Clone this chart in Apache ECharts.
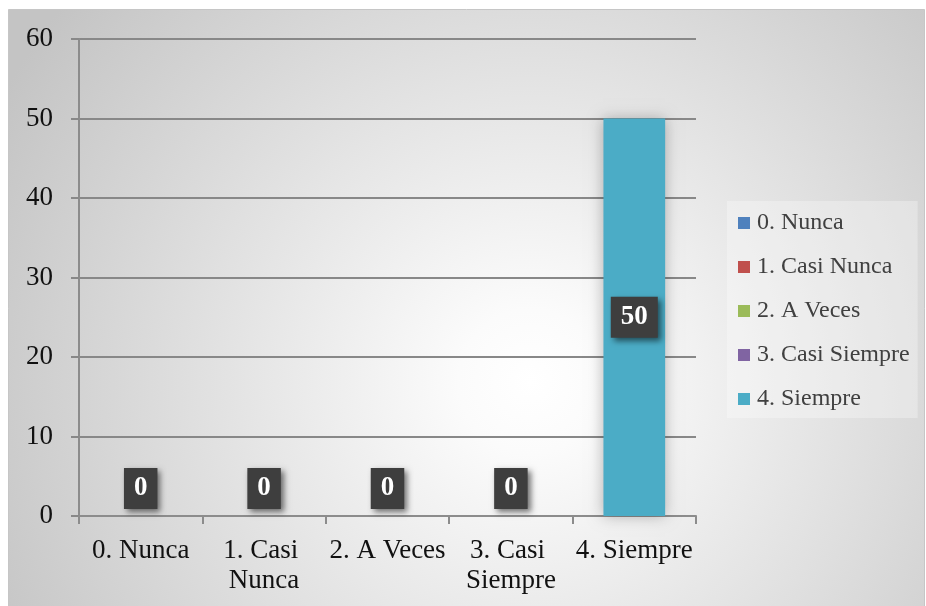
<!DOCTYPE html>
<html>
<head>
<meta charset="utf-8">
<script src="https://cdn.jsdelivr.net/npm/echarts@6/dist/echarts.min.js"></script>
<style>
html,body{margin:0;padding:0;background:#fff;}
#chart{width:926px;height:606px;}
</style>
</head>
<body>
<div id="chart"></div>
<script>
var categories = ['0. Nunca', '1. Casi Nunca', '2. A Veces', '3. Casi Siempre', '4. Siempre'];
var values = [0, 0, 0, 0, 50];
var colors = ['#4F81BD', '#C0504D', '#9BBB59', '#8064A2', '#4BACC6'];
var yTicks = [0, 10, 20, 30, 40, 50, 60];

var serifFont = "'Liberation Serif', 'DejaVu Serif', serif";
var chart = echarts.init(document.getElementById('chart'), null, {renderer: 'canvas'});

var series = categories.map(function (name, i) {
  return {
    name: name,
    type: 'bar',
    stack: 'total',
    barWidth: '50%',
    itemStyle: {
      color: colors[i],
      shadowBlur: 14,
      shadowColor: 'rgba(0,0,0,0.28)'
    },
    label: {
      show: true,
      color: '#ffffff',
      fontFamily: serifFont,
      fontWeight: 'bold',
      fontSize: 27,
      lineHeight: 27,
      backgroundColor: '#3e3e3e',
      padding: [7, 10, 7, 10],
      shadowBlur: 6,
      shadowColor: 'rgba(0,0,0,0.55)',
      shadowOffsetX: 3,
      shadowOffsetY: 3
    },
    data: categories.map(function (c, j) {
      if (j !== i) return null;
      var v = values[i];
      return {
        value: v,
        label: v > 0 ? {position: 'inside'} : {position: 'top', distance: 7}
      };
    })
  };
});

var option = {
  animation: false,
  backgroundColor: '#ffffff',
  color: colors,
  graphic: [{
    type: 'rect',
    z: -10,
    silent: true,
    shape: {x: 8.5, y: 9.5, width: 916, height: 600},
    style: {
      fill: {
        type: 'radial', x: 0.57, y: 0.62, r: 1.0,
        colorStops: [
          {offset: 0, color: '#ffffff'},
          {offset: 0.12, color: '#fbfbfb'},
          {offset: 1, color: '#c4c4c4'}
        ]
      },
      stroke: '#c6c6c6',
      lineWidth: 1
    }
  }],
  grid: {left: 79, right: 230, top: 39, bottom: 90, containLabel: false},
  legend: {
    orient: 'vertical',
    left: 727,
    top: 201,
    padding: [10, 8, 7, 11],
    backgroundColor: 'rgba(255,255,255,0.3)',
    itemWidth: 12,
    itemHeight: 12,
    itemGap: 20,
    icon: 'rect',
    textStyle: {
      fontFamily: serifFont,
      fontSize: 24,
      lineHeight: 21,
      color: '#404040',
      padding: [0, 0, 0, 2]
    },
    data: categories
  },
  xAxis: {
    type: 'category',
    data: categories,
    axisLine: {lineStyle: {color: '#8c8c8c', width: 2}},
    axisTick: {show: true, length: 8, lineStyle: {color: '#8c8c8c', width: 2}},
    axisLabel: {
      color: '#111111',
      fontFamily: serifFont,
      fontSize: 27,
      lineHeight: 30,
      margin: 20,
      interval: 0,
      width: 124,
      overflow: 'break'
    }
  },
  yAxis: {
    type: 'value',
    min: yTicks[0],
    max: yTicks[yTicks.length - 1],
    interval: yTicks[1] - yTicks[0],
    axisLine: {show: true, lineStyle: {color: '#8c8c8c', width: 2}},
    axisTick: {show: true, length: 8, lineStyle: {color: '#888888', width: 2}},
    splitLine: {show: true, lineStyle: {color: '#888888', width: 2}},
    axisLabel: {
      color: '#111111',
      fontFamily: serifFont,
      fontSize: 27,
      margin: 26
    }
  },
  series: series
};
chart.setOption(option);
</script>
</body>
</html>
